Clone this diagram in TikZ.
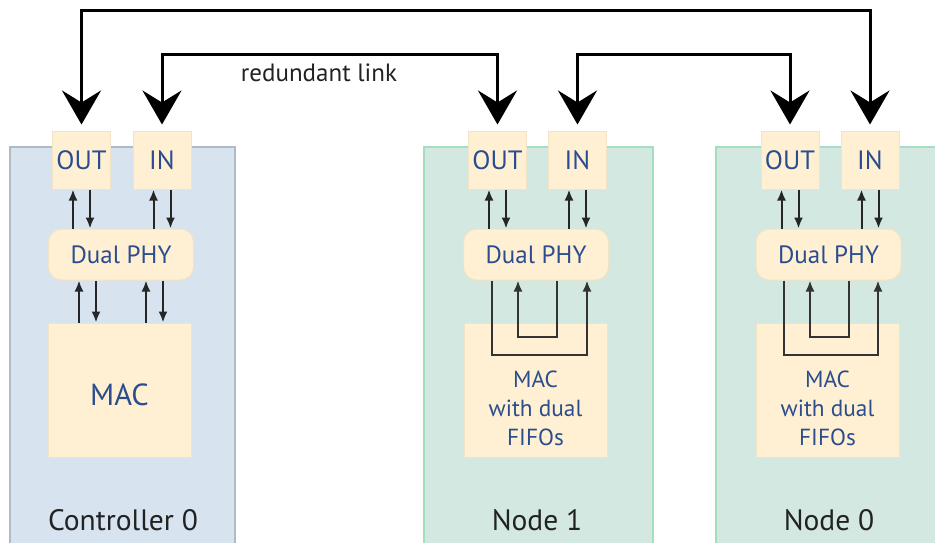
\documentclass[tikz,border=0pt]{standalone}
\usepackage{fontspec}
\setmainfont{PT Sans}
\usetikzlibrary{arrows.meta,calc}
\definecolor{ctrlfill}{HTML}{D7E3EF}
\definecolor{ctrldraw}{HTML}{AFBAC5}
\definecolor{nodefill}{HTML}{D2E8E1}
\definecolor{nodedraw}{HTML}{A6DCBF}
\definecolor{cream}{HTML}{FFF0D3}
\definecolor{creamdraw}{HTML}{F1E3C6}
\definecolor{txtblue}{HTML}{2B4D8E}
\definecolor{lbl}{HTML}{222222}
\tikzset{
  ctrlbox/.style={draw=ctrldraw,fill=ctrlfill,line width=1.5pt,minimum width=225pt,minimum height=400pt,inner sep=0pt},
  nodebox/.style={draw=nodedraw,fill=nodefill,line width=1.5pt,minimum width=229pt,minimum height=400pt,inner sep=0pt},
  port/.style={draw=creamdraw,fill=cream,line width=1pt,minimum width=58pt,minimum height=58pt,inner sep=0pt,text=txtblue,font=\fontsize{26.5}{30}\selectfont},
  phy/.style={draw=creamdraw,fill=cream,line width=1pt,minimum width=145pt,minimum height=51pt,rounded corners=13pt,inner sep=0pt,text=txtblue,font=\fontsize{25}{28}\selectfont},
  mac/.style={draw=creamdraw,fill=cream,line width=1pt,minimum width=143pt,minimum height=134pt,inner sep=0pt},
  mactext/.style={text=txtblue,align=center,inner sep=0pt},
  boxlabel/.style={text=lbl,font=\fontsize{29.5}{33}\selectfont},
  big/.style={line width=3pt,black,{Stealth[length=34pt,width=39pt,inset=12pt]}-{Stealth[length=34pt,width=39pt,inset=12pt]},shorten <=6pt,shorten >=6pt},
  sm/.style={line width=2pt,black!85,-{Latex[length=11pt,width=9pt]}},
  loop/.style={line width=2pt,black!80,-{Latex[length=11pt,width=9pt]}}
}
\begin{document}
\begin{tikzpicture}[x=1pt,y=-1pt]
\useasboundingbox (0,0) rectangle (935,542);
% containers
\node[ctrlbox] (ctrl) at (122.5,347) {};
\node[nodebox] (n1) at (538.5,347) {};
\node[nodebox,minimum width=240pt] (n0) at (836,347) {};
\node[boxlabel] (ctrllbl) at (123,520) {Controller 0};
\node[boxlabel] (n1lbl) at (537,520) {Node 1};
\node[boxlabel] (n0lbl) at (829,520) {Node 0};
% ports
\node[port] (cout) at (81.5,160) {OUT};
\node[port] (cin) at (162,160) {IN};
\node[port] (aout) at (497.5,160) {OUT};
\node[port] (ain) at (577.5,160) {IN};
\node[port] (bout) at (790,160) {OUT};
\node[port] (bin) at (870,160) {IN};
% PHYs
\node[phy] (cphy) at (121,254.5) {Dual PHY};
\node[phy] (aphy) at (536,254.5) {Dual PHY};
\node[phy] (bphy) at (828.5,254.5) {Dual PHY};
% MACs
\node[mac] (cmac) at (119.5,390) {};
\node[mac] (amac) at (535.5,390) {};
\node[mac] (bmac) at (827.5,390) {};
\node[mactext,font=\fontsize{30.5}{34}\selectfont] (cmact) at ([yshift=-5pt]cmac.center) {MAC};
\node[mactext,font=\fontsize{23.3}{29}\selectfont] (amact) at ([yshift=-18pt]amac.center) {MAC\\with dual\\FIFOs};
\node[mactext,font=\fontsize{23.3}{29}\selectfont] (bmact) at ([yshift=-18pt]bmac.center) {MAC\\with dual\\FIFOs};
% top links
\coordinate (top1) at (0,10);
\coordinate (top2) at (0,54);
\draw[big] (cout.north) -- (cout.north |- top1) -- (bin.north |- top1) -- (bin.north);
\draw[big] (cin.north) -- (cin.north |- top2) -- (aout.north |- top2) -- (aout.north);
\draw[big] (ain.north) -- (ain.north |- top2) -- (bout.north |- top2) -- (bout.north);
\node[text=lbl,font=\fontsize{25}{28}\selectfont] (redl) at (319,73) {redundant link};
% port <-> PHY arrows
\foreach \p/\h in {cout/cphy,cin/cphy,aout/aphy,ain/aphy,bout/bphy,bin/bphy}{
  \draw[sm] ([xshift=-8.5pt]\p.south |- \h.north) -- ([xshift=-8.5pt]\p.south);
  \draw[sm] ([xshift=8.5pt]\p.south) -- ([xshift=8.5pt]\p.south |- \h.north);
}
% controller PHY <-> MAC
\foreach \dx in {-40.5,26.5}{
  \draw[sm] ([xshift=\dx pt]cmac.north) -- ([xshift=\dx pt]cmac.north |- cphy.south);
  \draw[sm] ([xshift=\dx pt+17pt]cmac.north |- cphy.south) -- ([xshift=\dx pt+17pt]cmac.north);
}
% loopbacks in nodes
\draw[loop] ([xshift=-44pt]aphy.south) -- ++(0,74) -| ([xshift=51pt]aphy.south);
\draw[loop] ([xshift=21pt]aphy.south) -- ++(0,56) -| ([xshift=-18pt]aphy.south);
\draw[loop] ([xshift=-44.5pt]bphy.south) -- ++(0,74) -| ([xshift=49.5pt]bphy.south);
\draw[loop] ([xshift=20.5pt]bphy.south) -- ++(0,56) -| ([xshift=-18.5pt]bphy.south);
\end{tikzpicture}
\end{document}
